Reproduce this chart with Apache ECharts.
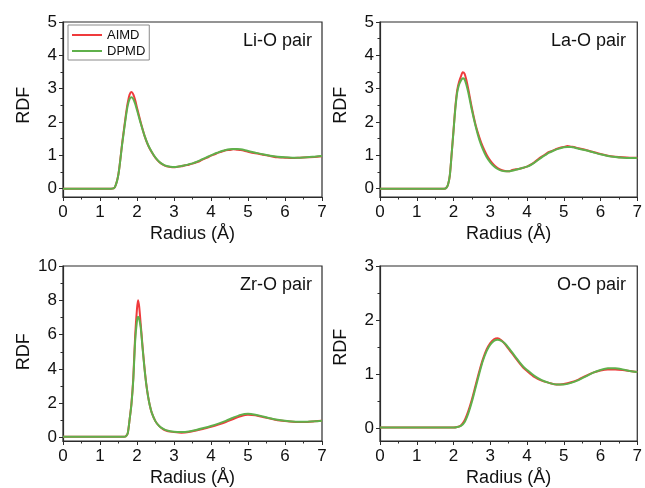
<!DOCTYPE html>
<html>
<head>
<meta charset="utf-8">
<script src="https://cdn.jsdelivr.net/npm/echarts@6/dist/echarts.min.js"></script>
<style>
html,body{margin:0;padding:0;background:#fff;}
#chart{width:645px;height:488px;}
</style>
</head>
<body>
<div id="chart"></div>
<script>
// ---------------- DATA ----------------
const seriesNames = ['AIMD', 'DPMD'];
const panelTitles = ['Li-O pair', 'La-O pair', 'Zr-O pair', 'O-O pair'];
const xTicks = [0, 1, 2, 3, 4, 5, 6, 7];
const yMaxes = [5, 5, 10, 3];
const yMins = [-0.25, -0.25, -0.25, -0.25];
const ySteps = [1, 1, 2, 1];

// Li-O pair
const liX =    [0, 0.5, 1.0, 1.3, 1.4, 1.5, 1.6, 1.7, 1.75, 1.8, 1.85, 1.9, 1.95, 2.0, 2.1, 2.2, 2.3, 2.4, 2.5, 2.6, 2.7, 2.8, 2.9, 3.0, 3.1, 3.2, 3.3, 3.4, 3.5, 3.6, 3.7, 3.8, 3.9, 4.0, 4.1, 4.2, 4.3, 4.4, 4.5, 4.6, 4.7, 4.8, 4.9, 5.0, 5.2, 5.4, 5.6, 5.8, 6.0, 6.2, 6.4, 6.6, 6.8, 7.0];
const liAIMD = [0, 0, 0, 0, 0.04, 0.45, 1.37, 2.22, 2.58, 2.82, 2.9, 2.83, 2.66, 2.43, 1.99, 1.6, 1.3, 1.09, 0.92, 0.8, 0.72, 0.67, 0.65, 0.64, 0.66, 0.67, 0.70, 0.72, 0.75, 0.79, 0.83, 0.89, 0.93, 0.99, 1.03, 1.08, 1.11, 1.15, 1.16, 1.18, 1.17, 1.16, 1.14, 1.11, 1.06, 1.02, 0.98, 0.94, 0.93, 0.92, 0.93, 0.94, 0.95, 0.97];
const liDPMD = [0, 0, 0, 0, 0.04, 0.44, 1.34, 2.16, 2.5, 2.69, 2.74, 2.69, 2.55, 2.36, 1.96, 1.6, 1.31, 1.1, 0.93, 0.81, 0.73, 0.68, 0.66, 0.65, 0.66, 0.68, 0.70, 0.73, 0.76, 0.80, 0.85, 0.90, 0.95, 1.0, 1.05, 1.09, 1.13, 1.16, 1.18, 1.19, 1.19, 1.18, 1.16, 1.13, 1.08, 1.03, 0.99, 0.96, 0.94, 0.93, 0.93, 0.94, 0.96, 0.98];

// La-O pair
const laX =    [0, 0.5, 1.0, 1.5, 1.75, 1.8, 1.85, 1.9, 1.95, 2.0, 2.05, 2.1, 2.15, 2.2, 2.25, 2.3, 2.35, 2.4, 2.5, 2.6, 2.7, 2.8, 2.9, 3.0, 3.1, 3.2, 3.3, 3.4, 3.5, 3.6, 3.7, 3.8, 3.9, 4.0, 4.1, 4.2, 4.3, 4.4, 4.5, 4.6, 4.7, 4.8, 4.9, 5.0, 5.1, 5.2, 5.3, 5.4, 5.6, 5.8, 6.0, 6.2, 6.4, 6.6, 6.8, 7.0];
const laAIMD = [0, 0, 0, 0, 0, 0.02, 0.12, 0.4, 1.05, 1.75, 2.45, 2.95, 3.2, 3.36, 3.49, 3.45, 3.26, 3.0, 2.42, 1.92, 1.55, 1.25, 1.02, 0.84, 0.71, 0.62, 0.56, 0.53, 0.52, 0.56, 0.58, 0.60, 0.63, 0.66, 0.72, 0.79, 0.88, 0.96, 1.03, 1.10, 1.14, 1.19, 1.23, 1.25, 1.28, 1.26, 1.24, 1.21, 1.16, 1.10, 1.04, 0.99, 0.96, 0.94, 0.93, 0.93];
const laDPMD = [0, 0, 0, 0, 0, 0.02, 0.12, 0.4, 1.05, 1.72, 2.4, 2.88, 3.12, 3.24, 3.31, 3.28, 3.12, 2.9, 2.36, 1.88, 1.48, 1.18, 0.95, 0.79, 0.67, 0.59, 0.54, 0.52, 0.52, 0.54, 0.57, 0.60, 0.63, 0.66, 0.71, 0.78, 0.86, 0.94, 1.01, 1.08, 1.13, 1.18, 1.21, 1.24, 1.25, 1.25, 1.23, 1.20, 1.15, 1.09, 1.03, 0.98, 0.95, 0.93, 0.92, 0.92];

// Zr-O pair
const zrX =    [0, 0.5, 1.0, 1.5, 1.65, 1.7, 1.75, 1.8, 1.85, 1.9, 1.95, 2.0, 2.03, 2.06, 2.1, 2.15, 2.2, 2.25, 2.3, 2.35, 2.4, 2.5, 2.6, 2.7, 2.8, 2.9, 3.0, 3.2, 3.4, 3.6, 3.8, 4.0, 4.2, 4.4, 4.6, 4.8, 5.0, 5.2, 5.4, 5.6, 5.8, 6.0, 6.2, 6.4, 6.6, 6.8, 7.0];
const zrAIMD = [0, 0, 0, 0, 0, 0.03, 0.2, 1.0, 1.95, 3.45, 5.9, 7.5, 8.0, 7.6, 6.6, 5.3, 4.1, 3.1, 2.35, 1.8, 1.4, 0.9, 0.62, 0.45, 0.35, 0.3, 0.27, 0.24, 0.27, 0.36, 0.47, 0.58, 0.71, 0.86, 1.04, 1.2, 1.29, 1.26, 1.16, 1.06, 0.97, 0.92, 0.88, 0.87, 0.87, 0.9, 0.94];
const zrDPMD = [0, 0, 0, 0, 0, 0.03, 0.2, 1.0, 1.9, 3.35, 5.6, 6.8, 7.03, 6.9, 6.4, 5.2, 4.05, 3.08, 2.35, 1.8, 1.4, 0.9, 0.63, 0.47, 0.37, 0.32, 0.29, 0.28, 0.31, 0.4, 0.51, 0.63, 0.77, 0.93, 1.12, 1.28, 1.34, 1.29, 1.19, 1.08, 0.99, 0.93, 0.89, 0.88, 0.88, 0.9, 0.94];

// O-O pair
const ooX =    [0, 0.5, 1.0, 1.5, 1.9, 2.0, 2.1, 2.2, 2.3, 2.4, 2.5, 2.6, 2.7, 2.8, 2.9, 3.0, 3.1, 3.2, 3.3, 3.4, 3.5, 3.6, 3.7, 3.8, 3.9, 4.0, 4.2, 4.4, 4.6, 4.8, 5.0, 5.2, 5.4, 5.6, 5.8, 6.0, 6.2, 6.4, 6.6, 6.8, 7.0];
const ooAIMD = [0, 0, 0, 0, 0, 0.0, 0.01, 0.04, 0.13, 0.3, 0.52, 0.78, 1.04, 1.27, 1.45, 1.57, 1.64, 1.66, 1.62, 1.55, 1.46, 1.37, 1.28, 1.19, 1.11, 1.05, 0.94, 0.87, 0.83, 0.80, 0.81, 0.84, 0.89, 0.96, 1.02, 1.06, 1.08, 1.08, 1.07, 1.05, 1.03];
const ooDPMD = [0, 0, 0, 0, 0, 0.0, 0.01, 0.03, 0.1, 0.26, 0.48, 0.74, 1.0, 1.24, 1.42, 1.54, 1.61, 1.63, 1.61, 1.56, 1.48, 1.39, 1.3, 1.21, 1.13, 1.07, 0.96, 0.88, 0.83, 0.80, 0.80, 0.83, 0.88, 0.95, 1.02, 1.07, 1.10, 1.10, 1.08, 1.05, 1.03];

const panelX = [liX, laX, zrX, ooX];
const panelAIMD = [liAIMD, laAIMD, zrAIMD, ooAIMD];
const panelDPMD = [liDPMD, laDPMD, zrDPMD, ooDPMD];

// ---------------- LAYOUT ----------------
const FONT = "'Liberation Sans', Arial, sans-serif";
const RED = '#ef3a3c';
const GREEN = '#5fb04b';
const AX = '#2b2b2b';
const boxes = [
  {left: 63, top: 22, width: 259, height: 175},
  {left: 380, top: 22, width: 259, height: 175},
  {left: 63, top: 266, width: 259, height: 176},
  {left: 380, top: 266, width: 259, height: 176}
];
const titlePos = [
  {right: 645 - 312, top: 32},
  {right: 645 - 626, top: 32},
  {right: 645 - 312, top: 276},
  {right: 645 - 626, top: 276}
];

const grid = [], xAxis = [], yAxis = [], series = [], title = [];
boxes.forEach((b, i) => {
  const yMin = yMins[i], yMax = yMaxes[i];
  const hB = b.height * yMax / (yMax - yMin);
  grid.push({left: b.left, top: b.top, width: b.width, height: b.height,
    show: true, borderColor: AX, borderWidth: 1.2, backgroundColor: 'transparent', containLabel: false});
  grid.push({left: b.left, top: b.top, width: b.width, height: hB, containLabel: false});
  xAxis.push({
    gridIndex: 2 * i, type: 'value', min: xTicks[0], max: xTicks[xTicks.length - 1], interval: 1,
    axisLine: {show: true, onZero: false, lineStyle: {color: AX, width: 1.2}},
    axisTick: {show: true, inside: false, length: 4, lineStyle: {color: AX, width: 1}},
    minorTick: {show: true, splitNumber: 2, length: 2.5, lineStyle: {color: AX, width: 1}},
    splitLine: {show: false},
    axisLabel: {show: true, fontSize: 17, color: '#111', fontFamily: FONT, margin: 7},
    name: 'Radius (Å)', nameLocation: 'middle', nameGap: 28,
    nameTextStyle: {fontSize: 18, color: '#111', fontFamily: FONT}
  });
  xAxis.push({gridIndex: 2 * i + 1, type: 'value', min: 0, max: 7, show: false});
  yAxis.push({
    gridIndex: 2 * i, type: 'value', min: yMin, max: yMax,
    axisLine: {show: true, onZero: false, lineStyle: {color: AX, width: 1.2}},
    axisTick: {show: false}, axisLabel: {show: false}, splitLine: {show: false}
  });
  yAxis.push({
    gridIndex: 2 * i + 1, type: 'value', min: 0, max: yMax, interval: ySteps[i],
    axisLine: {show: false},
    axisTick: {show: true, inside: false, length: 4, lineStyle: {color: AX, width: 1}},
    minorTick: {show: true, splitNumber: 2, length: 2.5, lineStyle: {color: AX, width: 1}},
    splitLine: {show: false},
    axisLabel: {show: true, fontSize: 17, color: '#111', fontFamily: FONT, margin: 6},
    name: 'RDF', nameLocation: 'middle', nameGap: 30,
    nameTextStyle: {fontSize: 18, color: '#111', fontFamily: FONT}
  });
  const xs = panelX[i];
  series.push({
    name: seriesNames[0], type: 'line', xAxisIndex: 2 * i, yAxisIndex: 2 * i,
    data: xs.map((x, k) => [x, panelAIMD[i][k]]),
    symbol: 'none', smooth: 0.25, z: 2,
    lineStyle: {color: RED, width: 2}, itemStyle: {color: RED}
  });
  series.push({
    name: seriesNames[1], type: 'line', xAxisIndex: 2 * i, yAxisIndex: 2 * i,
    data: xs.map((x, k) => [x, panelDPMD[i][k]]),
    symbol: 'none', smooth: 0.25, z: 3,
    lineStyle: {color: GREEN, width: 2}, itemStyle: {color: GREEN}
  });
  title.push({
    text: panelTitles[i], right: titlePos[i].right, top: titlePos[i].top, padding: 0,
    textStyle: {fontSize: 18, fontWeight: 'normal', color: '#111', fontFamily: FONT}
  });
});

const chart = echarts.init(document.getElementById('chart'), null, {renderer: 'canvas'});
chart.setOption({
  animation: false,
  backgroundColor: '#fff',
  title: title,
  legend: {
    data: seriesNames, orient: 'vertical', left: 68, top: 25,
    icon: 'rect', itemWidth: 30, itemHeight: 2, itemGap: 2, padding: [3, 4, 2, 4],
    borderColor: '#8a8a8a', borderWidth: 1, backgroundColor: '#fff',
    itemStyle: {borderWidth: 0},
    textStyle: {fontSize: 13, lineHeight: 14, color: '#111', fontFamily: FONT}
  },
  grid: grid, xAxis: xAxis, yAxis: yAxis, series: series
});
</script>
</body>
</html>
